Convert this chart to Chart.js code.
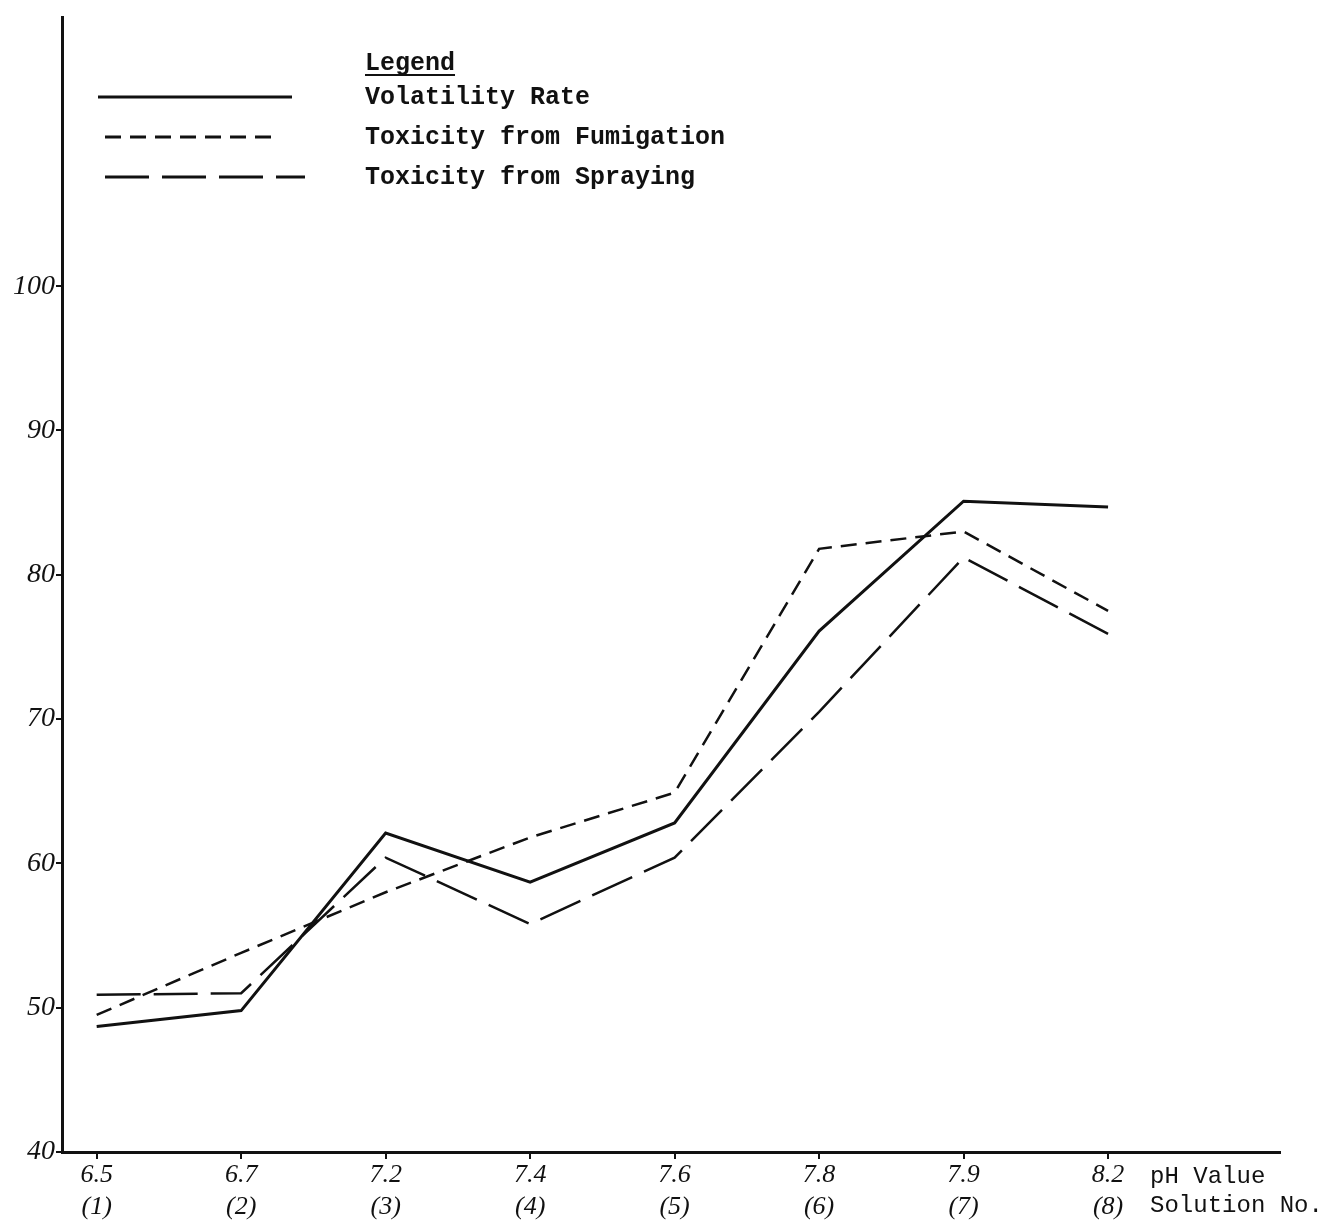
<!DOCTYPE html>
<html>
<head>
<meta charset="utf-8">
<script src="https://cdn.jsdelivr.net/npm/chart.js@4.4.1/dist/chart.umd.min.js"></script>
<style>
	html, body { margin: 0; padding: 0; background: #fff; }
	canvas { display: block; }
</style>
</head>
<body>
<canvas id="chart" width="1340" height="1221"></canvas>
<script>
// values
const phValues = ['6.5', '6.7', '7.2', '7.4', '7.6', '7.8', '7.9', '8.2']
const solutionNos = ['(1)', '(2)', '(3)', '(4)', '(5)', '(6)', '(7)', '(8)']
const volatilityRate = [48.7, 49.8, 62.1, 58.7, 62.8, 76.1, 85.1, 84.7]
const toxFumigation = [49.5, 53.8, 58.0, 61.8, 64.9, 81.8, 83.0, 77.5]
const toxSpraying = [50.9, 51.0, 60.4, 55.8, 60.4, 70.5, 81.2, 75.9]
const yTicks = [40, 50, 60, 70, 80, 90, 100]
const seriesNames = ['Volatility Rate', 'Toxicity from Fumigation', 'Toxicity from Spraying']
const axisNames = ['pH Value', 'Solution No.']

const ink = '#111'
const monoFont = 'bold 25px "Liberation Mono", "DejaVu Sans Mono", monospace'
const handFont = { family: '"Liberation Serif", "DejaVu Serif", serif', style: 'italic', size: 26 }

function toPoints(values) {
	return values.map((v, i) => ({ x: i, y: v }))
}

// legend drawn by hand so it looks like the typed one
const typedLegend = {
	id: 'typedLegend',
	afterDraw(chart) {
		const ctx = chart.ctx
		ctx.save()
		ctx.fillStyle = ink
		ctx.strokeStyle = ink
		ctx.font = monoFont
		ctx.textBaseline = 'alphabetic'
		ctx.fillText('Legend', 365, 70)
		const w = ctx.measureText('Legend').width
		ctx.lineWidth = 2
		ctx.beginPath()
		ctx.moveTo(365, 75)
		ctx.lineTo(365 + w, 75)
		ctx.stroke()

		const rows = [97, 137, 177]
		chart.data.datasets.forEach((ds, i) => {
			const y = rows[i]
			ctx.lineWidth = 3
			ctx.setLineDash(ds.borderDash || [])
			ctx.beginPath()
			ctx.moveTo(i === 0 ? 98 : 105, y)
			ctx.lineTo(i === 0 ? 292 : (i === 1 ? 278 : 305), y)
			ctx.stroke()
			ctx.setLineDash([])
			ctx.fillText(ds.label, 365, y + 7)
		})

		// axis captions right of the last category
		const xs = chart.scales.x
		const px = xs.getPixelForValue(phValues.length - 1) + 42
		ctx.font = '24px "Liberation Mono", "DejaVu Sans Mono", monospace'
		ctx.fillText(axisNames[0], px, 1183)
		ctx.fillText(axisNames[1], px, 1212)
		ctx.restore()
	}
}

const ctx = document.getElementById('chart').getContext('2d')
new Chart(ctx, {
	type: 'line',
	data: {
		datasets: [
			{
				label: seriesNames[0],
				data: toPoints(volatilityRate),
				borderColor: ink,
				borderWidth: 3,
				borderDash: [],
			},
			{
				label: seriesNames[1],
				data: toPoints(toxFumigation),
				borderColor: ink,
				borderWidth: 2.5,
				borderDash: [16, 9],
			},
			{
				label: seriesNames[2],
				data: toPoints(toxSpraying),
				borderColor: ink,
				borderWidth: 2.5,
				borderDash: [44, 13],
			},
		]
	},
	plugins: [typedLegend],
	options: {
		responsive: false,
		animation: false,
		layout: {
			padding: { top: 2, right: 60, left: 0, bottom: 0 }
		},
		elements: {
			point: { radius: 0 },
			line: { tension: 0 }
		},
		scales: {
			x: {
				type: 'linear',
				min: -0.24,
				max: 8.19,
				afterBuildTicks: (scale) => {
					scale.ticks = phValues.map((v, i) => ({ value: i }))
				},
				afterFit: (scale) => { scale.height = 69 },
				border: { display: true, color: ink, width: 3 },
				grid: { drawOnChartArea: false, drawTicks: true, tickLength: 7, color: ink, lineWidth: 2 },
				ticks: {
					color: ink,
					font: handFont,
					padding: 1,
					autoSkip: false,
					maxRotation: 0,
					callback: (value) => [phValues[value], solutionNos[value]]
				}
			},
			y: {
				min: 40,
				max: 118.6,
				afterBuildTicks: (scale) => {
					scale.ticks = yTicks.map(v => ({ value: v }))
				},
				afterFit: (scale) => { scale.width = 62 },
				border: { display: true, color: ink, width: 3 },
				grid: { drawOnChartArea: false, drawTicks: true, tickLength: 6, color: ink, lineWidth: 2 },
				ticks: {
					color: ink,
					font: { ...handFont, size: 28 },
					padding: 1
				}
			}
		},
		plugins: {
			legend: { display: false },
			tooltip: { enabled: false },
			title: { display: false }
		}
	}
})
</script>
</body>
</html>
